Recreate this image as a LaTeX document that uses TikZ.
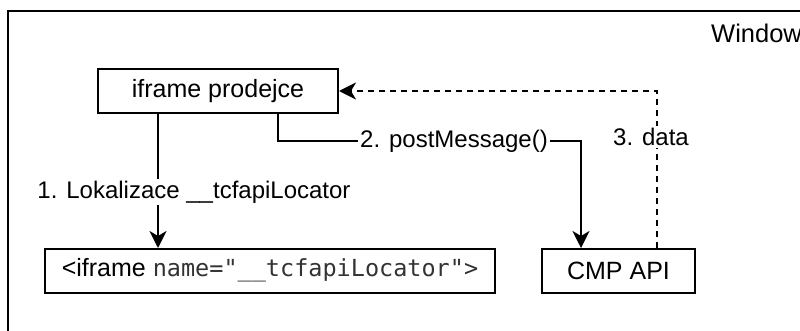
\documentclass[tikz,border=0pt]{standalone}
\usepackage{fontspec}
\setmainfont{Liberation Sans}
\newfontfamily\monofont{DejaVu Sans Mono}
\usetikzlibrary{arrows.meta}
\definecolor{monogray}{RGB}{51,51,51}
\tikzset{
  box/.style={draw=black, line width=2pt, minimum height=44pt, inner sep=0pt, font=\fontsize{25}{29}\selectfont},
  conn/.style={line width=2pt, -{Stealth[length=17pt, width=17pt, inset=5pt]}},
  lbl/.style={fill=white, inner sep=2pt, font=\fontsize{24}{28}\selectfont},
  dashline/.style={dash pattern=on 6pt off 5pt}
}
\begin{document}
\begin{tikzpicture}[x=1pt, y=-1pt]
\useasboundingbox (0,0) rectangle (800,331);
\clip (0,0) rectangle (800,331);
\fill[white] (0,0) rectangle (800,331);
\draw[line width=2pt] (8,11) rectangle (840,360);
\node[anchor=west, font=\fontsize{25.5}{29}\selectfont, inner sep=0pt] (win) at (711,33) {Window};

\node[box, minimum width=240pt] (prod) at (218,91) {iframe prodejce};
\node[box, minimum width=450pt] (loc) at (270,271) {\strut{}<iframe {\monofont\fontsize{23.5}{28}\selectfont\color{monogray}name="\_\_tcfapiLocator">}};
\node[box, minimum width=153pt] (cmp) at (618.5,271) {CMP API};

\coordinate (x1) at (158,0);
\coordinate (x2) at (278,0);
\coordinate (x3) at (581,0);
\coordinate (x4) at (657,0);
\coordinate (ym) at (0,141);

\draw[conn] (prod.south -| x1) -- (loc.north -| x1);
\node[lbl] (l1) at (194,192) {1. Lokalizace \_\_tcfapiLocator};

\draw[conn] (prod.south -| x2) -- (x2 |- ym) -- (x3 |- ym) -- (cmp.north -| x3);
\node[lbl] (l2) at (454,141) {2. postMessage()};

\draw[conn, dashline] (cmp.north -| x4) -- (x4 |- prod.east) -- (prod.east);
\node[lbl] (l3) at (651,137) {3. data};
\end{tikzpicture}
\end{document}
